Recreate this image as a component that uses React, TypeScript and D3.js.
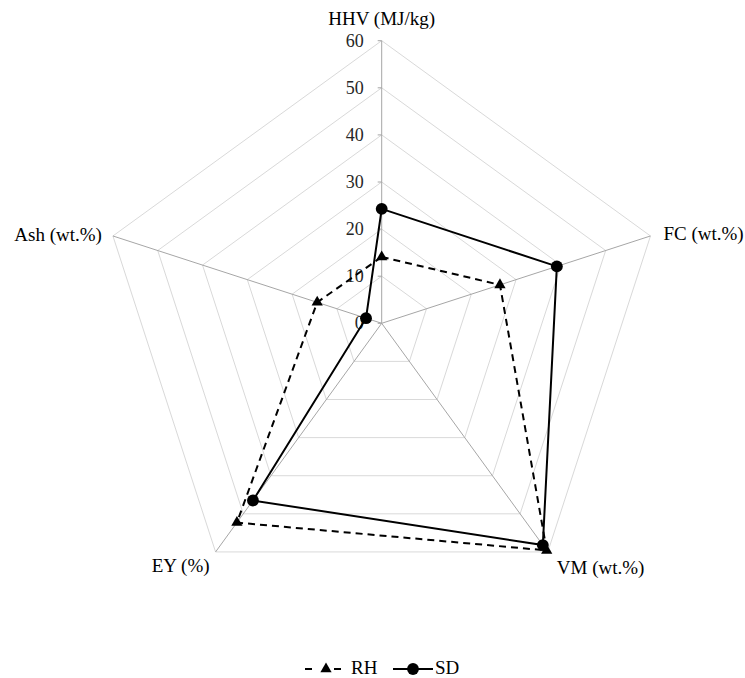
import React, { useEffect, useRef } from "react";
import * as d3 from "d3";

// axes go clockwise starting from the top
const axisNames = ["HHV (MJ/kg)", "FC (wt.%)", "VM (wt.%)", "EY (%)", "Ash (wt.%)"];
const tickValues = [0, 10, 20, 30, 40, 50, 60];
const rhValues = [14.1, 26.4, 59.6, 52.3, 14.4];
const sdValues = [24.3, 39.1, 58.2, 46.5, 3.5];

const App = () => {
  const ref = useRef<SVGSVGElement>(null);

  useEffect(() => {
    const svg = d3.select(ref.current);
    svg.selectAll("*").remove();

    const cx = 381.7;
    const cy = 323.3;
    const radius = 282.6;
    const font = "Liberation Serif, DejaVu Serif, Times New Roman, serif";

    const r = d3.scaleLinear().domain([0, 60]).range([0, radius]);
    const angle = (i: number) => (i * 2 * Math.PI) / axisNames.length;
    const pt = (i: number, v: number): [number, number] => [
      cx + r(v) * Math.sin(angle(i)),
      cy - r(v) * Math.cos(angle(i)),
    ];

    const g = svg.append("g").style("font-family", font);

    // grid rings
    tickValues.slice(1).forEach((t) => {
      g.append("path")
        .attr("d", d3.line()(axisNames.map((_, i) => pt(i, t))) + "Z")
        .attr("fill", "none")
        .attr("stroke", "#d9d9d9")
        .attr("stroke-width", 1);
    });

    // spokes
    axisNames.forEach((_, i) => {
      const [x, y] = pt(i, 60);
      g.append("line")
        .attr("x1", cx)
        .attr("y1", cy)
        .attr("x2", x)
        .attr("y2", y)
        .attr("stroke", "#a6a6a6")
        .attr("stroke-width", 1);
    });

    // tick marks + labels on the top axis
    tickValues.forEach((t) => {
      g.append("line")
        .attr("x1", cx - 4)
        .attr("x2", cx)
        .attr("y1", cy - r(t))
        .attr("y2", cy - r(t))
        .attr("stroke", "#a6a6a6");
      g.append("text")
        .attr("x", cx - 18)
        .attr("y", cy - r(t) + 6)
        .attr("text-anchor", "end")
        .attr("font-size", 18)
        .attr("fill", "#262626")
        .text(t);
    });

    // axis labels
    const labelPos = [
      { dx: 0, dy: -15.5, anchor: "middle" },
      { dx: 13, dy: 4, anchor: "start" },
      { dx: 9, dy: 22, anchor: "start" },
      { dx: -6, dy: 20, anchor: "end" },
      { dx: -11, dy: 5, anchor: "end" },
    ];
    axisNames.forEach((name, i) => {
      const [x, y] = pt(i, 60);
      g.append("text")
        .attr("x", x + labelPos[i].dx)
        .attr("y", y + labelPos[i].dy)
        .attr("text-anchor", labelPos[i].anchor)
        .attr("font-size", 19)
        .attr("fill", "#000")
        .text(name);
    });

    const triangle = d3.symbol().type(d3.symbolTriangle).size(55);
    const circle = d3.symbol().type(d3.symbolCircle).size(110);

    const drawSeries = (vals: number[], dash: string | null, sym: d3.Symbol<any, any>) => {
      const pts = vals.map((v, i) => pt(i, v));
      g.append("path")
        .attr("d", d3.line()(pts) + "Z")
        .attr("fill", "none")
        .attr("stroke", "#000")
        .attr("stroke-width", 2)
        .attr("stroke-dasharray", dash);
      pts.forEach(([x, y]) => {
        g.append("path")
          .attr("d", sym() as string)
          .attr("transform", `translate(${x},${y})`)
          .attr("fill", "#000");
      });
    };

    drawSeries(rhValues, "7,5", triangle);
    drawSeries(sdValues, null, circle);

    // legend
    const ly = 669;
    const leg = svg.append("g").style("font-family", font);
    [[305, 312], [334, 341]].forEach(([a, b]) => {
      leg.append("line")
        .attr("x1", a).attr("x2", b).attr("y1", ly).attr("y2", ly)
        .attr("stroke", "#000").attr("stroke-width", 2);
    });
    leg.append("path").attr("d", triangle() as string)
      .attr("transform", `translate(326,${ly})`).attr("fill", "#000");
    leg.append("text").attr("x", 351).attr("y", ly + 4.5)
      .attr("font-size", 19).text("RH");
    leg.append("line")
      .attr("x1", 393).attr("x2", 433).attr("y1", ly).attr("y2", ly)
      .attr("stroke", "#000").attr("stroke-width", 2);
    leg.append("path").attr("d", circle() as string)
      .attr("transform", `translate(413,${ly})`).attr("fill", "#000");
    leg.append("text").attr("x", 435).attr("y", ly + 4.5)
      .attr("font-size", 19).text("SD");
  }, []);

  return (
    <svg
      ref={ref}
      width={745}
      height={678}
      style={{ position: "absolute", left: 0, top: 0, background: "#fff" }}
    />
  );
};

export default App;
